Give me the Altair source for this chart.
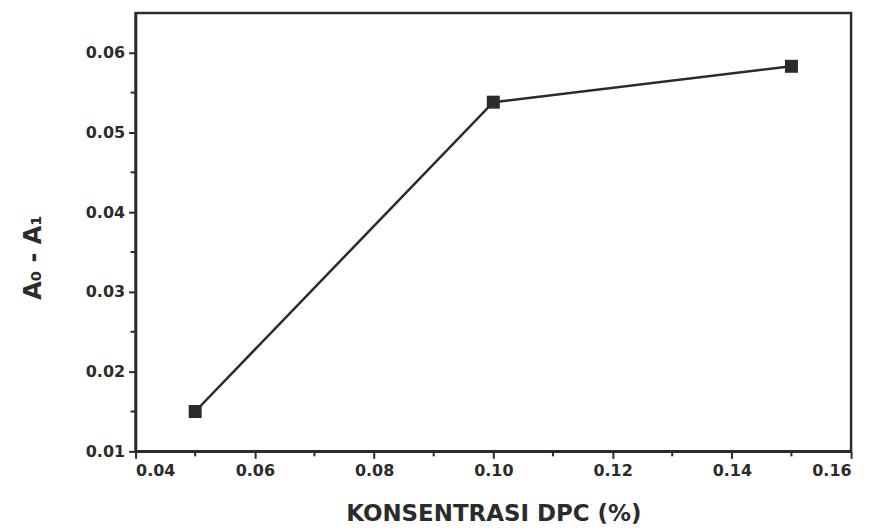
import altair as alt
import pandas as pd

konsentrasi = [0.05, 0.10, 0.15]
selisih = [0.015, 0.0538, 0.0583]
x_major = [0.04, 0.06, 0.08, 0.10, 0.12, 0.14, 0.16]
y_major = [0.01, 0.02, 0.03, 0.04, 0.05, 0.06]
x_minor = [0.05, 0.07, 0.09, 0.11, 0.13, 0.15]
y_minor = [0.015, 0.025, 0.035, 0.045, 0.055]

df = pd.DataFrame({"x": konsentrasi, "y": selisih})
dfx = pd.DataFrame({"x": x_minor})
dfy = pd.DataFrame({"y": y_minor})

INK = "#2b2b2b"
FONT = "DejaVu Sans"

xs = alt.Scale(domain=[0.04, 0.16], nice=False, zero=False)
ys = alt.Scale(domain=[0.01, 0.065], nice=False, zero=False)

xax = alt.Axis(values=x_major, format=".2f", title="KONSENTRASI DPC (%)",
               labelFont=FONT, labelFontSize=16, labelFontWeight="bold", labelColor=INK,
               titleFont=FONT, titleFontSize=23, titleFontWeight="bold", titleColor=INK,
               tickSize=7, tickWidth=2, tickColor=INK, domainColor=INK, domainWidth=2.5,
               labelPadding=4, titlePadding=24, grid=False)
yax = alt.Axis(values=y_major, format=".2f", title="A₀ - A₁",
               labelFont=FONT, labelFontSize=16, labelFontWeight="bold", labelColor=INK,
               titleFont=FONT, titleFontSize=24, titleFontWeight="bold", titleColor=INK,
               tickSize=7, tickWidth=2, tickColor=INK, domainColor=INK, domainWidth=2.5,
               labelPadding=4, titlePadding=40, titleY=245, grid=False)

line = alt.Chart(df).mark_line(color=INK, strokeWidth=2.5).encode(
    x=alt.X("x:Q", scale=xs, axis=xax),
    y=alt.Y("y:Q", scale=ys, axis=yax),
)
pts = alt.Chart(df).mark_square(color=INK, size=170, opacity=1).encode(
    x=alt.X("x:Q", scale=xs),
    y=alt.Y("y:Q", scale=ys),
)
xminor = alt.Chart(dfx).mark_rule(color=INK, strokeWidth=2).encode(
    x=alt.X("x:Q", scale=xs),
    y=alt.value(440), y2=alt.value(445),
)
yminor = alt.Chart(dfy).mark_rule(color=INK, strokeWidth=2).encode(
    y=alt.Y("y:Q", scale=ys),
    x=alt.value(0), x2=alt.value(-5),
)

chart = alt.layer(line, pts, xminor, yminor).properties(
    width=718, height=440,
    autosize=alt.AutoSizeParams(type="none"),
    padding={"left": 128, "top": 4, "right": 20, "bottom": 76},
    background="white",
).configure_view(stroke=INK, strokeWidth=2.5)

chart.save("out.html", embed_options={"renderer": "svg", "actions": False})
